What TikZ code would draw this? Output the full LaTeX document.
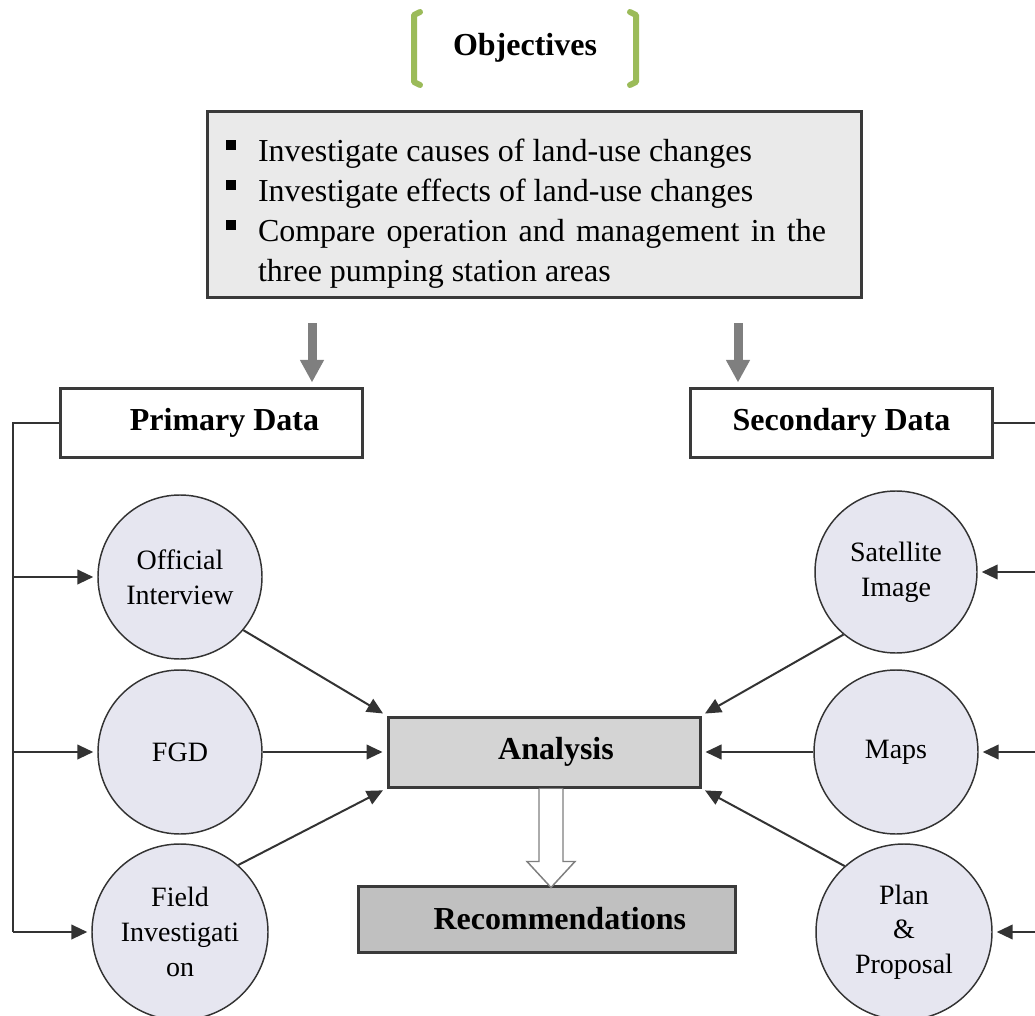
\documentclass[tikz,border=0pt]{standalone}
\usepackage{fontspec}
\setmainfont{Liberation Serif}
\usetikzlibrary{positioning,arrows.meta}
\definecolor{ink}{HTML}{333333}
\definecolor{frame}{HTML}{3A3A3A}
\definecolor{leaf}{HTML}{9BBB59}
\definecolor{objfill}{HTML}{EAEAEA}
\definecolor{anafill}{HTML}{D4D4D4}
\definecolor{recfill}{HTML}{C0C0C0}
\definecolor{bubble}{HTML}{E6E6F0}
\definecolor{shaft}{HTML}{7F7F7F}
\newenvironment{objlist}{\begin{list}{\rule[8.4pt]{7.5pt}{7.5pt}}{%
    \setlength{\leftmargin}{24pt}\setlength{\rightmargin}{12pt}\setlength{\labelwidth}{24pt}\setlength{\labelsep}{0pt}%
    \setlength{\itemsep}{0pt}\setlength{\parsep}{0pt}\setlength{\topsep}{0pt}\setlength{\partopsep}{0pt}%
    \renewcommand{\makelabel}[1]{##1\hfil}}}{\end{list}}

\begin{document}
\begin{tikzpicture}[x=0.75pt,y=-0.75pt,
    lbl/.style={font=\fontsize{24}{30}\selectfont\bfseries},
    databox/.style={draw=frame,line width=2.25pt,fill=white,minimum width=227pt,minimum height=51.75pt,lbl},
    bubblenode/.style={circle,draw=ink,line width=1.1pt,fill=bubble,align=center,inner sep=0pt,font=\fontsize{21}{26}\selectfont},
    bracket/.style={draw=leaf,line width=4.5pt,line cap=round,line join=round},
    conn/.style={draw=ink,line width=1.5pt},
    feed/.style={conn,-{Triangle[length=12pt,width=11pt]},shorten >=3pt},
    bigarrow/.style={draw=shaft,line width=6.75pt,-{Triangle[length=17pt,width=17pt]},shorten >=3pt},
    hollowarrow/.style={draw=shaft,line width=1.1pt,fill=white}]
  \useasboundingbox (0,0) rectangle (1035,1016);
  \clip (0,0) rectangle (1035,1016);

  % heading and objectives
  \node[lbl,anchor=base] (objt) at (525,56) {Objectives};
  \draw[bracket] (420,12) -- (414,15) -- (414,82) -- (420,85);
  \draw[bracket] (630,12) -- (636,15) -- (636,82) -- (630,85);
  \node[draw=frame,line width=2.25pt,fill=objfill,minimum width=490.5pt,minimum height=139.5pt,
        text width=462pt,align=justify,inner xsep=0pt,font=\fontsize{24}{30}\selectfont] (obj) at (534,205)
    {\begin{objlist}
       \item Investigate causes of land-use changes
       \item Investigate effects of land-use changes
       \item Compare operation and management in the three pumping station areas
     \end{objlist}};

  % data sources
  \node[databox] (prim) at (211.5,422.5) {\hspace*{19.5pt}Primary Data};
  \node[databox] (sec) at (841.5,422.5) {Secondary Data};
  \coordinate (dl) at (312,323);
  \coordinate (dr) at (738,323);
  \draw[bigarrow] (dl) -- (dl |- prim.north);
  \draw[bigarrow] (dr) -- (dr |- sec.north);

  \node[bubblenode,minimum size=123pt] (off) at (180,577) {Official\\Interview};
  \node[bubblenode,minimum size=123pt] (fgd) at (180,752) {FGD};
  \node[bubblenode,minimum size=132pt] (fld) at (180,932) {Field\\Investigati\\on};
  \node[bubblenode,minimum size=121.5pt] (sat) at (896,572) {Satellite\\Image};
  \node[bubblenode,minimum size=123pt] (maps) at (896,752) {Maps};
  \node[bubblenode,minimum size=132pt] (plan) at (904,932) {Plan\\\&\\Proposal};

  \node[draw=frame,line width=2.25pt,fill=anafill,minimum width=234pt,minimum height=52.5pt,lbl] (ana) at (544,752) {\hspace*{18pt}Analysis};
  \node[draw=frame,line width=2.25pt,fill=recfill,minimum width=282.75pt,minimum height=49.5pt,lbl] (rec) at (546.5,919) {\hspace*{20pt}Recommendations};

  % side buses
  \coordinate (lb) at (13,0);
  \coordinate (rb) at (1050,0);
  \draw[conn] (prim.west) -| (lb |- fld.west);
  \draw[conn] (sec.east) -| (rb |- plan.east);
  \foreach \c in {off,fgd,fld} \draw[feed] (lb |- \c.west) -- (\c.west);
  \foreach \c in {sat,maps,plan} \draw[feed] (rb |- \c.east) -- (\c.east);

  % into analysis
  \draw[feed] (off.-40) -- (ana.north west);
  \draw[feed] (fgd.east) -- (ana.west);
  \draw[feed] (fld.49) -- (ana.south west);
  \draw[feed] (sat.230) -- (ana.north east);
  \draw[feed] (maps.west) -- (ana.east);
  \draw[feed] (plan.132) -- (ana.south east);

  \draw[hollowarrow] ([xshift=-3.75pt]ana.south) -- ++(0,73) -- ++(-12,0) -- ++(24,26) -- ++(24,-26) -- ++(-12,0) -- ++(0,-73);
\end{tikzpicture}
\end{document}
